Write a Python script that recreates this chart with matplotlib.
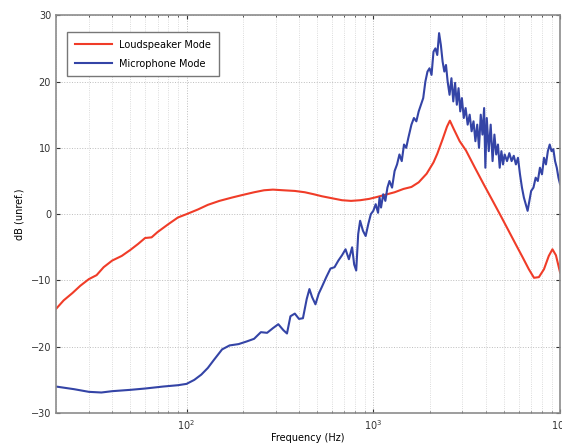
"""Loudspeaker vs microphone mode frequency response."""

import matplotlib

matplotlib.use("Agg")
import matplotlib.pyplot as plt
from matplotlib.ticker import FixedLocator, LogLocator, NullFormatter

# Loudspeaker mode (Hz, dB)
spk_freq = [20, 22, 24.5, 27, 30, 33, 36, 40, 45, 50, 55, 60, 65, 70, 80, 90,
            100, 115, 130, 150, 175, 200, 230, 260, 290, 330, 380, 430, 480,
            530, 600, 680, 760, 850, 950, 1050, 1150, 1300, 1450, 1600, 1750,
            1930, 2100, 2200, 2350, 2480, 2570, 2700, 2900, 3135, 3500, 3900,
            4300, 4800, 5300, 5800, 6300, 6800, 7250, 7700, 8200, 8700, 9100,
            9500, 10000]
spk_db = [-14.3, -13.0, -11.9, -10.8, -9.8, -9.2, -8.0, -7.0, -6.3, -5.4, -4.5,
          -3.6, -3.5, -2.7, -1.5, -0.5, 0.0, 0.7, 1.4, 2.0, 2.5, 2.9, 3.3, 3.6,
          3.7, 3.6, 3.5, 3.3, 3.0, 2.7, 2.4, 2.1, 2.0, 2.1, 2.3, 2.6, 2.9, 3.3,
          3.8, 4.1, 4.8, 6.1, 7.8, 9.1, 11.3, 13.2, 14.1, 12.8, 11.0, 9.6, 7.0,
          4.5, 2.3, -0.2, -2.5, -4.6, -6.5, -8.3, -9.6, -9.5, -8.3, -6.3, -5.3,
          -6.2, -8.8]

# Microphone mode (Hz, dB)
mic_freq = [20, 25, 30, 35, 40, 50, 60, 75, 90, 100, 110, 120, 130, 140, 155,
            170, 190, 210, 230, 250, 270, 290, 310, 330, 345, 360, 380, 400,
            420, 440, 455, 470, 490, 510, 530, 560, 590, 620, 650, 680, 710,
            740, 770, 790, 810, 830, 850, 880, 910, 940, 970, 1000, 1030, 1060,
            1080, 1100, 1130, 1160, 1190, 1220, 1260, 1300, 1340, 1380, 1420,
            1460, 1500, 1540, 1600, 1650, 1700, 1750, 1800, 1850, 1900, 1950,
            2000, 2050, 2100, 2150, 2200, 2250, 2300, 2350, 2400, 2450, 2500,
            2560, 2620, 2680, 2740, 2800, 2860, 2920, 2980, 3050, 3120, 3200,
            3280, 3360, 3440, 3520, 3600, 3680, 3760, 3840, 3920, 3980, 4050,
            4150, 4250, 4350, 4450, 4550, 4650, 4750, 4850, 4950, 5050, 5200,
            5350, 5500, 5650, 5800, 5950, 6100, 6250, 6400, 6550, 6700, 6850,
            7000, 7200, 7400, 7600, 7800, 8000, 8200, 8400, 8600, 8800, 9000,
            9200, 9400, 9600, 9800, 10000]
mic_db = [-26.0, -26.4, -26.8, -26.9, -26.7, -26.5, -26.3, -26.0, -25.8, -25.6,
          -25.0, -24.2, -23.2, -22.0, -20.4, -19.8, -19.6, -19.2, -18.8, -17.8,
          -17.9, -17.2, -16.6, -17.5, -18.0, -15.4, -15.0, -15.8, -15.7, -12.8,
          -11.3, -12.5, -13.6, -12.0, -11.0, -9.5, -8.2, -8.0, -7.0, -6.2,
          -5.3, -6.8, -5.0, -7.6, -8.5, -3.0, -1.0, -2.5, -3.3, -1.5, 0.0, 0.5,
          1.5, 0.2, 2.5, 1.0, 3.0, 2.0, 4.0, 5.0, 4.0, 6.5, 7.5, 9.0, 8.0,
          10.5, 10.0, 11.5, 13.5, 14.5, 14.0, 15.5, 16.5, 17.5, 20.0, 21.5,
          22.0, 21.0, 24.5, 25.0, 24.0, 27.3, 25.5, 23.0, 21.5, 22.5, 20.0,
          18.0, 20.5, 17.0, 19.8, 16.5, 19.0, 15.5, 17.5, 14.5, 16.0, 13.5,
          15.0, 12.5, 14.0, 11.0, 13.5, 10.0, 15.0, 12.0, 16.0, 7.0, 14.5, 9.5,
          13.5, 8.0, 12.0, 9.0, 10.5, 7.0, 9.5, 7.5, 9.0, 8.0, 9.2, 8.0, 8.8,
          7.5, 8.5, 6.0, 4.0, 2.5, 1.5, 0.5, 2.0, 3.5, 4.0, 5.5, 5.0, 7.0, 6.0,
          8.5, 7.5, 9.5, 10.5, 9.5, 9.8, 8.0, 7.0, 5.5, 4.5]

y_ticks = [-30, -20, -10, 0, 10, 20, 30]
x_ticks = [1e2, 1e3, 1e4]
x_labels = [r"$10^2$", r"$10^3$", r"$10^4$"]

frame = "#8c8c8c"

fig = plt.figure(figsize=(5.62, 4.48), dpi=100)
ax = fig.add_axes([0.0996, 0.078, 0.897, 0.888])

ax.semilogx(spk_freq, spk_db, color="#f03c28", lw=1.5, label="Loudspeaker Mode")
ax.semilogx(mic_freq, mic_db, color="#3444a6", lw=1.5, label="Microphone Mode")

ax.set_xlim(20, 1e4)
ax.set_ylim(-30, 30)
ax.set_yticks(y_ticks)
ax.xaxis.set_major_locator(FixedLocator(x_ticks))
ax.set_xticklabels(x_labels)
ax.xaxis.set_minor_locator(LogLocator(base=10, subs=range(2, 10)))
ax.xaxis.set_minor_formatter(NullFormatter())

ax.grid(True, which="major", ls=":", color="#bdbdbd", lw=0.7)
ax.grid(True, which="minor", axis="x", ls=":", color="#d0d0d0", lw=0.6)
ax.tick_params(which="both", direction="in", top=True, right=True,
               colors="#333333", labelsize=7, length=3)
ax.tick_params(which="minor", length=1.5)
for s in ax.spines.values():
    s.set_color(frame)
    s.set_linewidth(1.2)

ax.set_xlabel("Frequency (Hz)", fontsize=7, labelpad=1)
ax.set_ylabel("dB (unref.)", fontsize=7)
ax.yaxis.set_label_coords(-0.063, 0.5)

leg = ax.legend(loc="upper left", bbox_to_anchor=(0.012, 0.97), fontsize=7,
                fancybox=False, framealpha=1, edgecolor="#777777",
                handlelength=3.8, borderpad=0.8, labelspacing=0.9)
leg.get_frame().set_linewidth(1.0)

fig.savefig("out.png", dpi=100)
